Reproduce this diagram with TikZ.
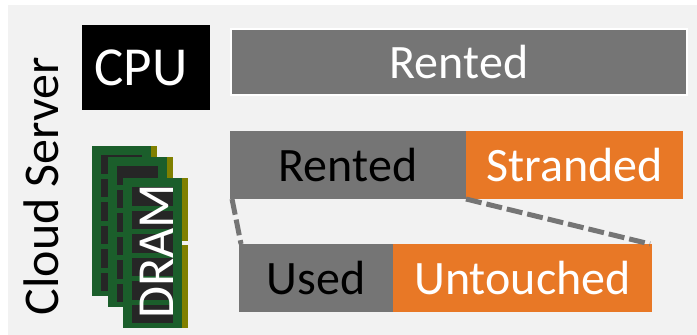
\documentclass[tikz,border=0pt]{standalone}
\usepackage{fontspec}
\setmainfont{Carlito}
\definecolor{panelgray}{HTML}{F2F2F2}
\definecolor{rentgray}{HTML}{757575}
\definecolor{strandorange}{HTML}{E87826}
\definecolor{dimmgreen}{HTML}{1B5E2B}
\definecolor{dimmgold}{HTML}{808000}
\definecolor{chipdark}{HTML}{262626}
\tikzset{
    membox/.style={rectangle, inner sep=0pt, outer sep=0pt, font=\fontsize{48}{50}\selectfont},
    rentbox/.style={membox, fill=rentgray},
    strandbox/.style={membox, fill=strandorange, text=white},
    dashline/.style={draw=rentgray, line width=5pt, dash pattern=on 16pt off 5pt}
}
\begin{document}
\begin{tikzpicture}[x=1pt,y=-1pt]
    \useasboundingbox (0,0) rectangle (697,335);
    \fill[panelgray] (8,5) rectangle (697,335);
    \node[rotate=90, font=\fontsize{50}{50}\selectfont] (server) at (41,186) {Cloud Server};
    \node[membox, fill=black, text=white, font=\fontsize{55}{55}\selectfont, minimum width=128pt, minimum height=85pt] (cpu) at (146,67.5) {CPU\hspace*{10pt}};
    \node[rentbox, text=white, draw=white, line width=2pt, minimum width=456pt, minimum height=66pt] (rentall) at (459,62) {Rented};
    \node[rentbox, minimum width=236pt, minimum height=68pt] (rentpart) at (348,165) {Rented};
    \node[strandbox, minimum width=217pt, minimum height=68pt] (stranded) at (574.5,165) {Stranded};
    \node[rentbox, minimum width=154pt, minimum height=68pt] (used) at (316,278) {Used};
    \node[strandbox, minimum width=259pt, minimum height=68pt] (untouched) at (522.5,278) {Untouched};
    \coordinate (usedtop) at (241,244);
    \coordinate (untouchedtop) at (650,244);
    \draw[dashline] (rentpart.south west) ++(2,0) -- (usedtop);
    \draw[dashline] (stranded.south west) -- (untouchedtop);
    % memory sticks, back to front
    \foreach \x/\y in {92/146,108/157,123/178} {
        \fill[dimmgreen] (\x,\y) rectangle ++(59,150);
        \fill[dimmgold] (\x+59,\y) rectangle ++(6,63);
        \fill[dimmgold] (\x+59,\y+67) rectangle ++(6,83);
        \foreach \i in {0,...,5} {
            \fill[chipdark] (\x+9,\y+9+23.5*\i) rectangle ++(41,18.7);
        }
    }
    \node[rotate=90, text=white, inner sep=0pt, font=\fontsize{52}{52}\selectfont] (dram) at (157,251) {DRAM};
\end{tikzpicture}
\end{document}
